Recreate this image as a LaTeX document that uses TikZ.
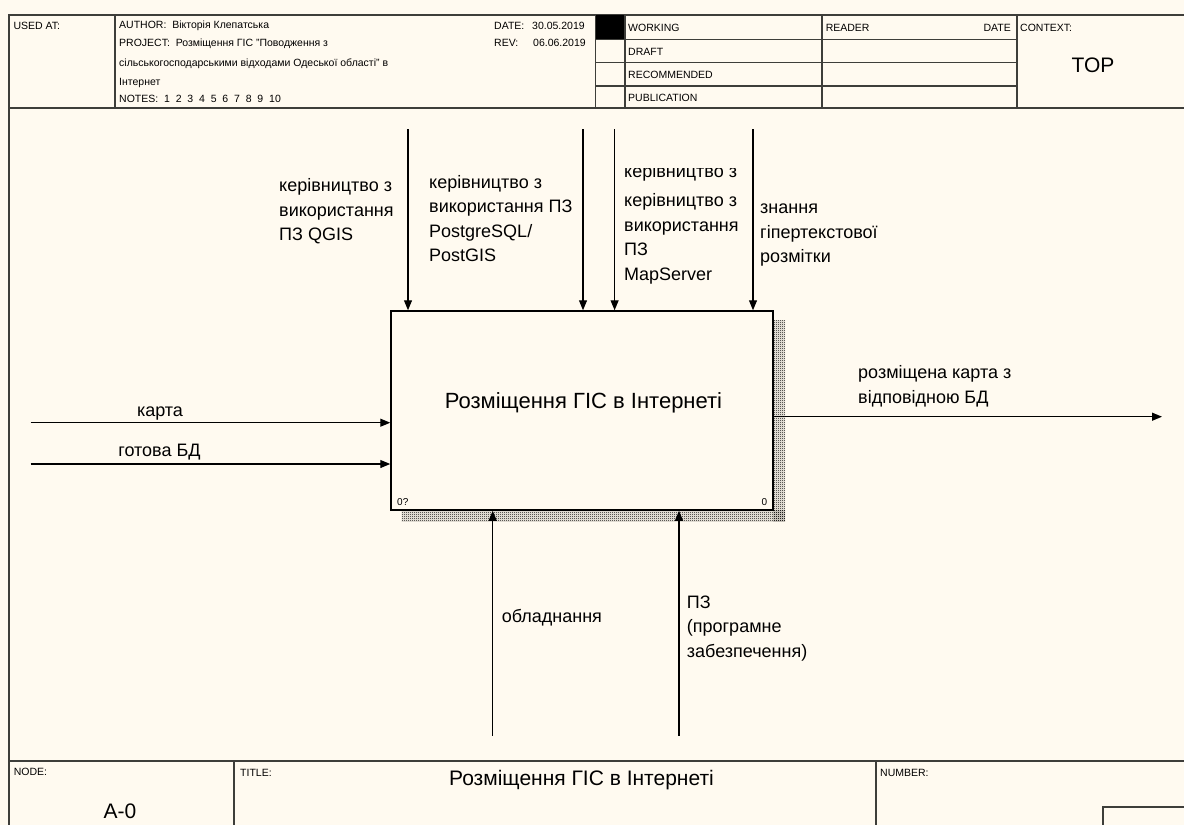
\documentclass[tikz,border=0pt]{standalone}
\usepackage{fontspec}
\setmainfont{Liberation Sans}
\usetikzlibrary{arrows.meta,patterns}

\definecolor{paper}{RGB}{255,250,240}
\definecolor{rule}{RGB}{62,62,58}
\newcommand{\lblfont}{\fontsize{18}{24.5}\selectfont}
\newcommand{\hdrfont}{\fontsize{10.5}{12}\selectfont}
\newcommand{\bigfont}{\fontsize{21}{24}\selectfont}
\newcommand{\actfont}{\fontsize{22}{26}\selectfont}
\newcommand{\tinyfont}{\fontsize{10}{12}\selectfont}

\pgfdeclarepatternformonly{shadowcheck}{\pgfpointorigin}{\pgfpoint{2pt}{2pt}}{\pgfpoint{2pt}{2pt}}{%
  \pgfpathrectangle{\pgfpointorigin}{\pgfpoint{1pt}{1pt}}%
  \pgfpathrectangle{\pgfpoint{1pt}{1pt}}{\pgfpoint{1pt}{1pt}}%
  \pgfusepath{fill}}

\begin{document}
\begin{tikzpicture}[x=1pt,y=-1pt,
  frame/.style={draw=rule, line width=1.8pt},
  grid/.style={draw=rule, line width=1.4pt},
  hdr/.style={font=\hdrfont, inner sep=0pt, anchor=west},
  lbl/.style={font=\lblfont, align=left, inner sep=0pt, anchor=north west},
  arr/.style={-{Triangle[length=10pt,width=8pt]}, line width=1.2pt}]
  \useasboundingbox (0,0) rectangle (1184,825);
  \clip (0,0) rectangle (1184,825);
  \fill[paper] (0,0) rectangle (1184,825);

  % frame, header and footer rules
  \draw[frame] (1190,15) -- (9.3,15) -- (9.3,830);
  \draw[frame] (9.3,108) -- (1190,108);
  \draw[frame] (9.3,761) -- (1190,761);
  \fill[black] (595.7,15) rectangle (625,39.3);
  \foreach \x in {115,595.7,625,822,1017}
    \draw[grid] (\x,15) -- (\x,108);
  \foreach \y in {39.3,62.7,86}
    \draw[grid] (595.7,\y) -- (1017,\y);
  \foreach \x in {234,876}
    \draw[grid] (\x,761) -- (\x,830);
  \draw[grid] (1103,830) -- (1103,807) -- (1190,807);

  % header texts
  \node[hdr] (usedat) at (13.4,26) {USED AT:};
  \node[hdr] (author) at (119,26) {AUTHOR:\ \ Вікторія Клепатська};
  \node[hdr] (project) at (119,43.3) {PROJECT:\ \ Розміщення ГІС "Поводження з};
  \node[hdr] (project2) at (119,64) {сільськогосподарськими відходами Одеської області" в};
  \node[hdr] (project3) at (119,83) {Інтернет};
  \node[hdr] (notes) at (119,99) {NOTES:\ \ 1\ \ 2\ \ 3\ \ 4\ \ 5\ \ 6\ \ 7\ \ 8\ \ 9\ \ 10};
  \node[hdr] (date) at (494,26) {DATE:};
  \node[hdr] (dateval) at (532,26) {30.05.2019};
  \node[hdr] (rev) at (494,43.3) {REV:};
  \node[hdr] (revval) at (533,43.3) {06.06.2019};
  \node[hdr] (working) at (628,28) {WORKING};
  \node[hdr] (draft) at (628,51.5) {DRAFT};
  \node[hdr] (recom) at (628,75) {RECOMMENDED};
  \node[hdr] (public) at (628,98.3) {PUBLICATION};
  \node[hdr] (reader) at (825.6,28) {READER};
  \node[hdr, anchor=east] (readdate) at (1011,28) {DATE};
  \node[hdr] (context) at (1020,28) {CONTEXT:};
  \node[font=\bigfont, inner sep=0pt] (top) at (1093,65) {TOP};

  % footer texts
  \node[hdr] (nodelbl) at (13.6,772) {NODE:};
  \node[hdr] (titlelbl) at (240,773) {TITLE:};
  \node[hdr] (numberlbl) at (880,773) {NUMBER:};
  \node[font=\bigfont, inner sep=0pt] (title) at (581.5,780) {Розміщення ГІС в Інтернеті};
  \node[font=\bigfont, inner sep=0pt] (nodenum) at (120,811) {A-0};

  % activity box with shadow
  \fill[pattern=shadowcheck, pattern color=black] (773,320) rectangle (785,521.7);
  \fill[pattern=shadowcheck, pattern color=black] (401.7,510) rectangle (785,521.7);
  \node[draw=black, fill=paper, line width=1.5pt, minimum width=382pt, minimum height=199pt,
    inner sep=0pt] (act) at (582,410.5) {};
  \node[font=\actfont, inner sep=0pt] (acttext) at (583.5,403) {Розміщення ГІС в Інтернеті};
  \node[font=\tinyfont, inner sep=0pt, anchor=west] (actcost) at (397,502) {0?};
  \node[font=\tinyfont, inner sep=0pt, anchor=east] (actnum) at (767.5,502) {0};

  % controls
  \coordinate (c1) at (408,129);
  \coordinate (c2) at (583,129);
  \coordinate (c3) at (614.6,129);
  \coordinate (c4) at (753,129);
  \foreach \c in {c1,c2,c3,c4}
    \draw[arr] (\c) -- (\c |- act.north);
  \node[lbl] (ctrlqgis) at (279,174.2) {\strut керівництво з\\використання\\ПЗ QGIS};
  \node[lbl] (ctrlpg) at (429,170.8) {\strut керівництво з\\використання ПЗ\\PostgreSQL/\\PostGIS};
  \begin{scope}
    \clip (600,168) rectangle (750,200);
    \node[lbl] (ctrlcut) at (624,159.9) {\strut керівництво з};
  \end{scope}
  \node[lbl] (ctrlms) at (624,189.2) {\strut керівництво з\\використання\\ПЗ\\MapServer};
  \node[lbl] (ctrlhtml) at (760,196.5) {\strut знання\\гіпертекстової\\розмітки};

  % inputs
  \coordinate (i1) at (30.7,422.7);
  \coordinate (i2) at (30.7,464);
  \draw[arr] (i1) -- (i1 -| act.west);
  \draw[arr] (i2) -- (i2 -| act.west);
  \node[font=\lblfont, inner sep=0pt] (inmap) at (160,411.7) {\strut карта};
  \node[font=\lblfont, inner sep=0pt] (indb) at (159.5,451.7) {\strut готова БД};

  % output
  \coordinate (o1) at (1162,416.7);
  \draw[arr] (act.east |- o1) -- (o1);
  \node[lbl] (outmap) at (858,361.5) {\strut розміщена карта з\\відповідною БД};

  % mechanisms
  \coordinate (m1) at (492.7,735.7);
  \coordinate (m2) at (679,735.7);
  \draw[arr] (m1) -- (m1 |- act.south);
  \draw[arr] (m2) -- (m2 |- act.south);
  \node[font=\lblfont, inner sep=0pt, anchor=west] (mechhw) at (501.7,618) {\strut обладнання};
  \node[lbl] (mechsw) at (686.7,591) {\strut ПЗ\\(програмне\\забезпечення)};
\end{tikzpicture}
\end{document}
